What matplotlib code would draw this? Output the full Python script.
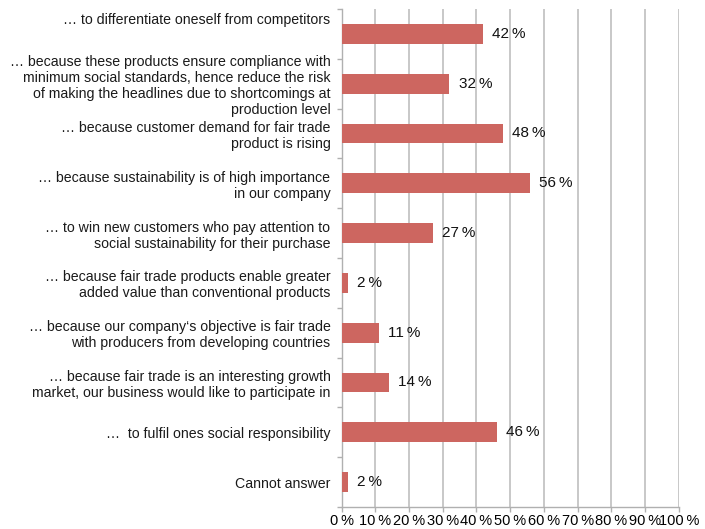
import matplotlib
matplotlib.use("Agg")
import matplotlib.pyplot as plt
import matplotlib.ticker as ticker

reasons = [
    "\u2026 to differentiate oneself from competitors\n\n",
    "\u2026 because these products ensure compliance with\nminimum social standards, hence reduce the risk\nof making the headlines due to shortcomings at\nproduction level",
    "\u2026 because customer demand for fair trade\nproduct is rising",
    "\u2026 because sustainability is of high importance\nin our company",
    "\u2026 to win new customers who pay attention to\nsocial sustainability for their purchase",
    "\u2026 because fair trade products enable greater\nadded value than conventional products",
    "\u2026 because our company\u2018s objective is fair trade\nwith producers from developing countries",
    "\u2026 because fair trade is an interesting growth\nmarket, our business would like to participate in",
    "\u2026  to fulfil ones social responsibility",
    "Cannot answer",
]
shares = [42, 32, 48, 56, 27, 2, 11, 14, 46, 2]
x_ticks = list(range(0, 101, 10))
x_ticklabels = ["%d\u2009%%" % t for t in x_ticks]

plt.rcParams["font.family"] = ["Liberation Sans", "DejaVu Sans"]
plt.rcParams["font.size"] = 10.2

fig = plt.figure(figsize=(7.05, 5.29), dpi=100)
ax = fig.add_axes([0.4844, 0.0416, 0.963 - 0.4844, 0.983 - 0.0416])

pos = list(range(len(reasons)))
bars = ax.barh(pos, shares, height=0.4, color="#cd6660", zorder=3)
ax.bar_label(bars, labels=["%d\u2009%%" % v for v in shares], padding=6.5,
             fontsize=11, color="#111111")

ax.set_xlim(0, 100)
ax.set_ylim(len(reasons) - 0.5, -0.5)
ax.set_xticks(x_ticks)
ax.set_xticklabels(x_ticklabels, fontsize=10.5)
ax.set_yticks(pos)
ax.set_yticklabels(reasons, fontsize=10.2, linespacing=1.18, color="#1a1a1a")
ax.yaxis.set_minor_locator(ticker.FixedLocator([p - 0.5 for p in pos] + [len(pos) - 0.5]))
ax.tick_params(axis="y", which="major", length=0, pad=8)
ax.tick_params(axis="y", which="minor", length=3.5, color="#b0b0b0", width=1)
ax.tick_params(axis="x", length=3.5, color="#b0b0b0", width=1, pad=1.5)

ax.grid(axis="x", color="#c4c4c4", linewidth=1.3, zorder=0)
for side in ["top", "right"]:
    ax.spines[side].set_visible(False)
for side in ["left", "bottom"]:
    ax.spines[side].set_color("#b0b0b0")
    ax.spines[side].set_linewidth(1)

fig.savefig("out.png", dpi=100)
